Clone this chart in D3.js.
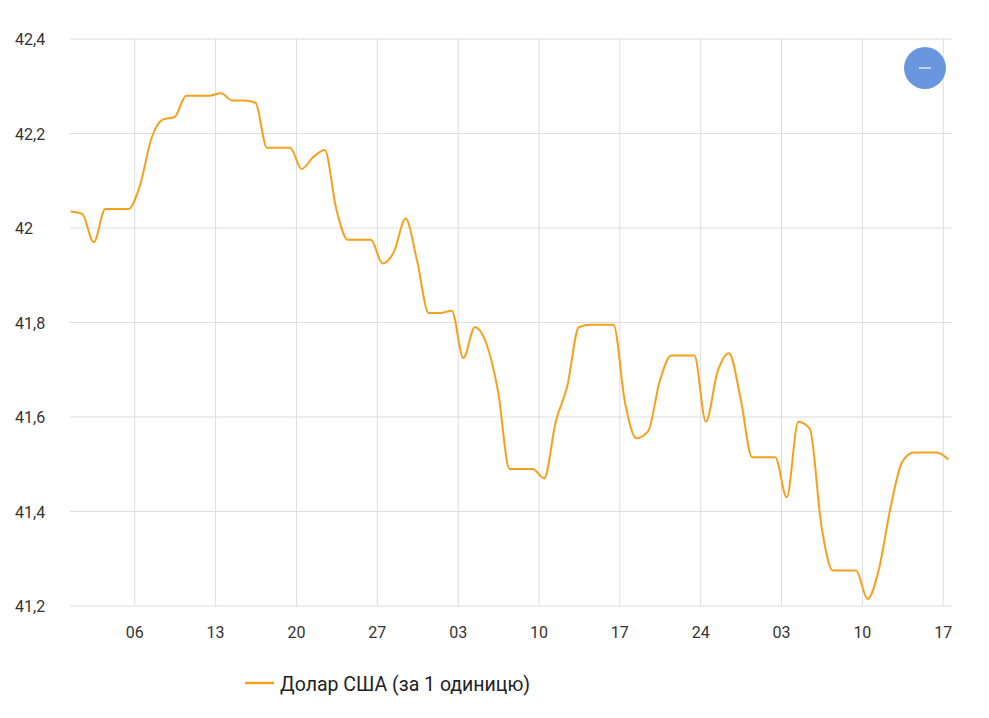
<!DOCTYPE html>
<html><head><meta charset="utf-8">
<script src="https://cdn.jsdelivr.net/npm/d3@7"></script>
<style>body{margin:0;background:#fff;font-family:Roboto,sans-serif}</style>
</head><body><svg id="c" width="989" height="718"></svg>
<script>
const startDate = "2024-12-31";
const values = [42.035,42.03,41.97,42.04,42.04,42.04,42.09,42.19,42.23,42.235,42.28,42.28,42.28,42.285,42.27,42.27,42.265,42.17,42.17,42.17,42.125,42.15,42.165,42.04,41.975,41.975,41.975,41.925,41.95,42.02,41.93,41.82,41.82,41.825,41.725,41.79,41.755,41.655,41.49,41.49,41.49,41.47,41.59,41.665,41.79,41.795,41.795,41.795,41.63,41.555,41.57,41.675,41.73,41.73,41.73,41.59,41.695,41.735,41.64,41.515,41.515,41.515,41.43,41.59,41.575,41.37,41.275,41.275,41.275,41.215,41.28,41.41,41.505,41.525,41.525,41.525,41.51];
const xTickDates = ["2025-01-06","2025-01-13","2025-01-20","2025-01-27","2025-02-03","2025-02-10","2025-02-17","2025-02-24","2025-03-03","2025-03-10","2025-03-17"];
const yTicks = [41.2,41.4,41.6,41.8,42,42.2,42.4];
const seriesName = "Долар США (за 1 одиницю)";

const DAY = 864e5;
const t0 = Date.UTC(2024,11,31);
const data = values.map((v,i)=>({d:new Date(t0 + (i+0.45)*DAY), v}));
const svg = d3.select("#c");
const L=70,R=952,T=39,B=606;
const x = d3.scaleUtc().domain([new Date(Date.UTC(2025,0,1)-0.606*DAY), new Date(Date.UTC(2025,0,1)+75.76*DAY)]).range([L,R]);
const y = d3.scaleLinear().domain([41.2,42.4]).range([B,T]);
const fmt = d3.format(",.1f");
const yl = v => (v===42?"42":fmt(v).replace(".",","));
const tickDates = xTickDates.map(s=>new Date(s+"T00:00:00Z"));

svg.append("g").selectAll("line").data(yTicks).join("line")
 .attr("x1",L).attr("x2",R).attr("y1",d=>y(d)).attr("y2",d=>y(d)).attr("stroke","#ddd");
svg.append("g").selectAll("line").data(tickDates).join("line")
 .attr("x1",d=>x(d)).attr("x2",d=>x(d)).attr("y1",T).attr("y2",B).attr("stroke","#ddd");
svg.append("g").selectAll("text").data(yTicks).join("text")
 .attr("x",15).attr("y",d=>y(d)+6).text(yl).attr("font-size",16).attr("fill","#333");
svg.append("g").selectAll("text").data(tickDates).join("text")
 .attr("x",d=>x(d)).attr("y",638).attr("text-anchor","middle").text(d3.utcFormat("%d")).attr("font-size",16).attr("fill","#333");

svg.append("path").datum(data).attr("fill","none").attr("stroke","#f7a01c").attr("stroke-width",2)
 .attr("d",d3.line().x(d=>x(d.d)).y(d=>y(d.v)).curve(d3.curveMonotoneX));

svg.append("circle").attr("cx",925).attr("cy",68).attr("r",21).attr("fill","#6a96e0");
svg.append("line").attr("x1",919).attr("x2",931).attr("y1",68).attr("y2",68).attr("stroke","#fff").attr("stroke-width",1.2);

svg.append("line").attr("x1",245).attr("x2",274).attr("y1",683).attr("y2",683).attr("stroke","#f7a01c").attr("stroke-width",2.5);
svg.append("text").attr("x",280).attr("y",691).text(seriesName).attr("font-size",19.5).attr("fill","#222");
</script></body></html>
